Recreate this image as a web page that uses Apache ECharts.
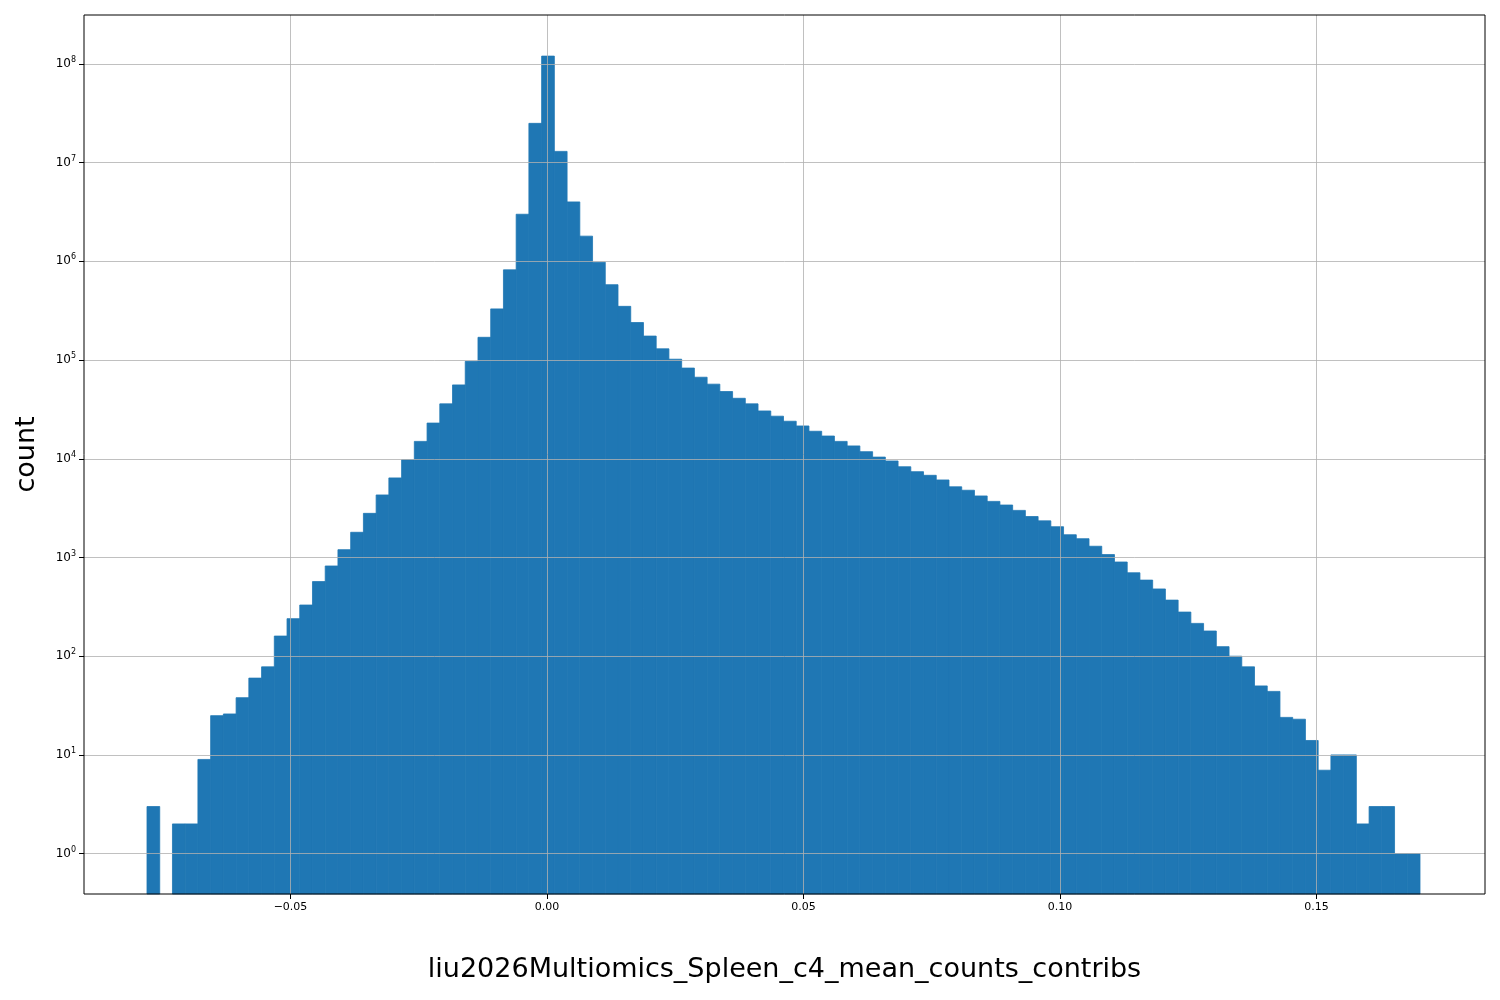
<!DOCTYPE html>
<html><head><meta charset="utf-8">
<script src="https://cdn.jsdelivr.net/npm/echarts@6/dist/echarts.min.js"></script>
<style>html,body{margin:0;padding:0;background:#fff}#c{width:1500px;height:1000px}</style>
</head><body><div id="c"></div>
<script>
const binStart = -0.07797;
const binWidth = 0.0024815;
const counts = [3,0,2,2,9,25,26,38,60,78,160,240,330,570,820,1200,1800,2800,4300,6400,
9800,15000,23000,36000,56000,97000,170000,330000,820000,3.0e6,2.5e7,1.2e8,1.3e7,4.0e6,1.8e6,980000,580000,350000,240000,175000,
130000,102000,83000,67000,57000,48000,41000,36000,30500,27000,24000,21500,19000,17000,15000,13500,11800,10400,9500,8300,
7400,6800,6100,5200,4800,4200,3700,3400,3000,2600,2350,2050,1700,1550,1300,1070,900,700,590,480,
370,280,215,180,125,100,78,50,44,24,23,14,7,10,10,2,3,3,1,1];
const xTicks = [-0.05,0,0.05,0.10,0.15];
const yTicks = [1,10,100,1e3,1e4,1e5,1e6,1e7,1e8];
const yMin = 0.39, yMax = 3.13e8;

const data = counts.map((c,i)=>[binStart+i*binWidth, binStart+(i+1)*binWidth, c]).filter(d=>d[2]>0);
const chart = echarts.init(document.getElementById('c'));
chart.setOption({
  animation:false,
  grid:{left:84,right:15,top:15,bottom:106,containLabel:false,outerBoundsMode:'none',show:true,borderColor:'#000',borderWidth:1,z:10},
  xAxis:{type:'value',min:-0.09025,max:0.18285,z:5,
    name:'liu2026Multiomics_Spleen_c4_mean_counts_contribs',nameLocation:'middle',nameGap:62,
    nameTextStyle:{fontSize:27,color:'#000',fontFamily:'DejaVu Sans'},
    axisLine:{show:false,onZero:false},
    axisTick:{show:true,length:5,lineStyle:{color:'#000'},customValues:xTicks},
    axisLabel:{customValues:xTicks,fontSize:11,color:'#000',fontFamily:'DejaVu Sans',margin:8,
      formatter:v=>(v<0?'\u2212':'')+Math.abs(v).toFixed(2)},
    splitLine:{show:true,lineStyle:{color:'#b0b0b0',width:1,opacity:0.8}}},
  yAxis:{type:'log',logBase:10,min:yMin,max:yMax,z:5,
    name:'count',nameLocation:'middle',nameGap:44,
    nameTextStyle:{fontSize:27,color:'#000',fontFamily:'DejaVu Sans'},
    axisLine:{show:false,onZero:false},
    axisTick:{show:true,length:5,lineStyle:{color:'#000'},customValues:yTicks},
    axisLabel:{customValues:yTicks,color:'#000',fontFamily:'DejaVu Sans',margin:8,
      formatter:v=>'10{s|'+Math.round(Math.log10(v))+'}',
      rich:{s:{fontSize:8,verticalAlign:'top',padding:[0,0,8,0],color:'#000'}},fontSize:12},
    splitLine:{show:true,lineStyle:{color:'#b0b0b0',width:1,opacity:0.8}}},
  series:[{type:'custom',z:1,data:data,encode:{x:[0,1],y:2},
    renderItem:(params,api)=>{
      const p0=api.coord([api.value(0),api.value(2)]);
      const p1=api.coord([api.value(1),yMin]);
      return {type:'rect',shape:{x:p0[0],y:p0[1],width:p1[0]-p0[0],height:p1[1]-p0[1]},
        style:{fill:'#1f77b4',stroke:'#1f77b4',lineWidth:0.8}};
    }}]
});
</script></body></html>
